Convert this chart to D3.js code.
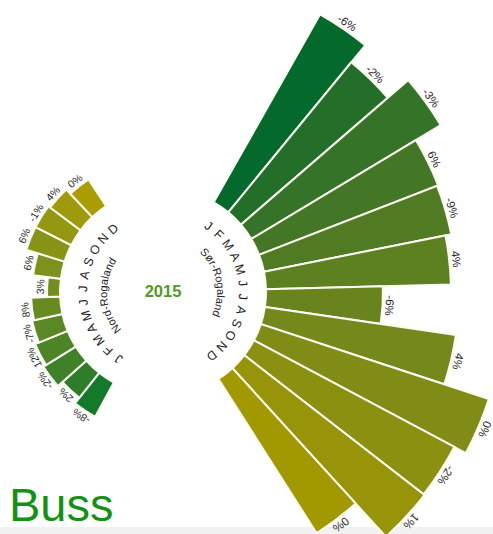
<!DOCTYPE html>
<html>
<head>
<meta charset="utf-8">
<script src="https://cdn.jsdelivr.net/npm/d3@7"></script>
<style>
  html, body { margin: 0; padding: 0; background: #fff; }
  svg { display: block; font-family: "Liberation Sans", Arial, sans-serif; }
</style>
</head>
<body>
<svg id="chart" width="493" height="534"></svg>
<script>
// ---- data ----
const months = ["J","F","M","A","M","J","J","A","S","O","N","D"];
const nordValues = [39, 32, 38, 35, 31, 29, 13, 28, 40, 40, 38, 32];
const sorValues  = [216, 194, 221, 192, 191, 185, 117, 193, 240, 227, 228, 183];
const nordChange = ["-8%","2%","-2%","12%","-7%","8%","3%","6%","6%","-1%","4%","0%"];
const sorChange  = ["-6%","-2%","-3%","6%","-9%","4%","-6%","4%","0%","-2%","1%","0%"];
const regions = ["Nord-Rogaland", "Sør-Rogaland"];
const yearLabel = "2015";
const title = "Buss";

// ---- layout ----
const W = 493, H = 534;
const cx = 163, cy = 292;
const innerR = 103;
const svg = d3.select("#chart");

svg.append("rect").attr("x", 0).attr("y", 527).attr("width", W).attr("height", H - 527).attr("fill", "#f1f1f1");

const rScale = d3.scaleLinear().domain([0, 250]).range([innerR, innerR + 250]);
const deg = Math.PI / 180;

const charts = [
  { name: regions[0], values: nordValues, change: nordChange, start: 208.5, end: 326.5,
    color: d3.scaleLinear().domain([0, 11]).range(["#137a2c", "#a99d02"]).interpolate(d3.interpolateLab),
    labelSize: 10.5, nameMid: 266, nameR: 56 },
  { name: regions[1], values: sorValues, change: sorChange, start: 29.5, end: 147.5,
    color: d3.scaleLinear().domain([0, 11]).range(["#036a2b", "#a29800"]).interpolate(d3.interpolateLab),
    labelSize: 11.5, nameMid: 79, nameR: 54 }
];

const g = svg.append("g").attr("transform", `translate(${cx},${cy})`);
const arc = d3.arc();

charts.forEach((c, ci) => {
  const angle = d3.scaleBand().domain(d3.range(12)).range([c.start, c.end]).padding(0);
  const cg = g.append("g");
  cg.selectAll("path.bar").data(c.values).join("path")
    .attr("class", "bar")
    .attr("d", (v, i) => arc({
      innerRadius: innerR,
      outerRadius: rScale(v),
      startAngle: angle(i) * deg,
      endAngle: (angle(i) + angle.bandwidth()) * deg
    }))
    .attr("fill", (v, i) => c.color(i))
    .attr("stroke", "#fbfbf2")
    .attr("stroke-width", 2);

  const mid = i => angle(i) + angle.bandwidth() / 2;

  // percentage labels
  cg.selectAll("text.pct").data(c.change).join("text")
    .attr("class", "pct")
    .attr("transform", (t, i) => {
      const a = mid(i) * deg, r = rScale(c.values[i]) + 3;
      return `translate(${r * Math.sin(a)},${-r * Math.cos(a)}) rotate(${mid(i)})`;
    })
    .attr("text-anchor", "middle")
    .attr("font-size", c.labelSize)
    .attr("fill", "#2a2a2a")
    .text(t => t);

  // month letters
  cg.selectAll("text.month").data(months).join("text")
    .attr("class", "month")
    .attr("transform", (t, i) => {
      const a = mid(i) * deg, r = 80;
      return `translate(${r * Math.sin(a)},${-r * Math.cos(a)}) rotate(${mid(i)})`;
    })
    .attr("text-anchor", "middle")
    .attr("dominant-baseline", "central")
    .attr("font-size", 12.5)
    .attr("fill", "#1e1e1e")
    .text(t => t);

  // region name on arc
  const pr = c.nameR;
  const a0 = (c.nameMid - 70) * deg, a1 = (c.nameMid + 70) * deg;
  const p = d3.path();
  p.arc(0, 0, pr, a0 - Math.PI / 2, a1 - Math.PI / 2, false);
  cg.append("path").attr("id", "namepath" + ci).attr("d", p.toString()).attr("fill", "none");
  cg.append("text")
    .attr("font-size", 11)
    .attr("fill", "#222")
    .append("textPath")
    .attr("href", "#namepath" + ci)
    .attr("startOffset", "50%")
    .attr("text-anchor", "middle")
    .text(c.name);
});

// year in centre
svg.append("text")
  .attr("x", cx).attr("y", 297)
  .attr("text-anchor", "middle")
  .attr("font-size", 16.5)
  .attr("font-weight", "bold")
  .attr("fill", "#529a26")
  .text(yearLabel);

// title
svg.append("text")
  .attr("x", 9).attr("y", 521)
  .attr("font-size", 47)
  .attr("fill", "#129212")
  .text(title);
</script>
</body>
</html>
